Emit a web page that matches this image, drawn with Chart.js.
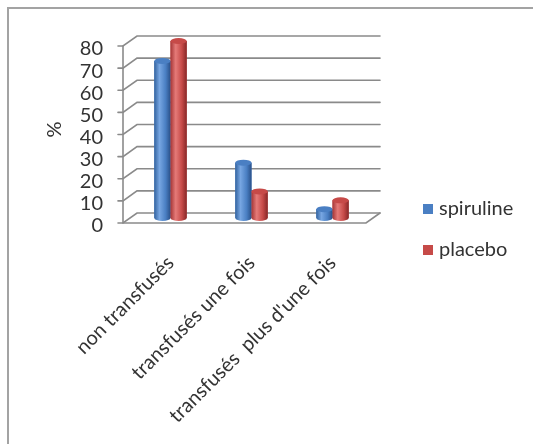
<!DOCTYPE html>
<html>
<head>
<meta charset="utf-8">
<script src="https://cdn.jsdelivr.net/npm/chart.js@4/dist/chart.umd.min.js"></script>
<style>
  html, body { margin: 0; padding: 0; background: #ffffff; }
  canvas { display: block; }
</style>
</head>
<body>
<canvas id="chart" width="533" height="444"></canvas>
<script>
// Répartition des patients selon le nombre de transfusions (%)
const categories = ['non transfusés', 'transfusés une fois', "transfusés  plus d'une fois"];
const spiruline = [71, 25, 4];
const placebo = [80, 12, 8];
const yTickValues = [0, 10, 20, 30, 40, 50, 60, 70, 80];
const seriesNames = ['spiruline', 'placebo'];

const FONT = { family: 'Lato, "Open Sans", sans-serif', size: 20 };
const TEXT = '#333333';
const GRID = '#8a8a8a';
// half-depth of the pseudo-3D box (front plane = mid plane - DX, + DY)
const DX = 7, DY = 5;

const shades = [
  ['#33639f', '#77a6e2', '#4a7fc3', '#2a5088'],
  ['#a63636', '#e57a78', '#c64a48', '#862828']
];

// outer frame (top and left edges) and white background
const framePlugin = {
  id: 'frame',
  beforeDraw(chart) {
    const { ctx, width, height } = chart;
    ctx.save();
    ctx.fillStyle = '#ffffff';
    ctx.fillRect(0, 0, width, height);
    ctx.strokeStyle = '#a3a3a3';
    ctx.lineWidth = 2;
    ctx.beginPath();
    ctx.moveTo(width, 8);
    ctx.lineTo(8, 8);
    ctx.lineTo(8, height);
    ctx.stroke();
    ctx.restore();
  }
};

// back wall gridlines, side ticks and floor of the 3D box
const boxPlugin = {
  id: 'box3d',
  beforeDatasetsDraw(chart) {
    const { ctx, chartArea: { left, right }, scales: { y } } = chart;
    ctx.save();
    ctx.strokeStyle = GRID;
    ctx.lineWidth = 1.6;
    ctx.lineCap = 'round';
    yTickValues.forEach(v => {
      const py = y.getPixelForValue(v);
      ctx.beginPath();
      ctx.moveTo(left - DX - 5, py + DY);
      ctx.lineTo(left - DX, py + DY);
      ctx.lineTo(left + DX, py - DY);
      ctx.lineTo(right + DX, py - DY);
      ctx.stroke();
    });
    const yTop = y.getPixelForValue(yTickValues[yTickValues.length - 1]);
    const y0 = y.getPixelForValue(0);
    ctx.beginPath();
    ctx.moveTo(left - DX, yTop + DY);
    ctx.lineTo(left - DX, y0 + DY);
    ctx.lineTo(right - DX, y0 + DY);
    ctx.lineTo(right + DX, y0 - DY);
    ctx.stroke();
    ctx.restore();
  }
};

// cylinder shading over each bar
const cylinderPlugin = {
  id: 'cylinder',
  afterDatasetsDraw(chart) {
    const { ctx } = chart;
    chart.data.datasets.forEach((ds, di) => {
      const meta = chart.getDatasetMeta(di);
      const s = shades[di];
      meta.data.forEach(el => {
        const { x, y, base, width } = el.getProps(['x', 'y', 'base', 'width'], true);
        const l = x - width / 2, r = x + width / 2;
        const g = ctx.createLinearGradient(l, 0, r, 0);
        g.addColorStop(0, s[0]);
        g.addColorStop(0.32, s[1]);
        g.addColorStop(0.7, s[2]);
        g.addColorStop(1, s[3]);
        const ry = Math.min(3, Math.abs(base - y) / 2);
        ctx.save();
        ctx.fillStyle = g;
        ctx.beginPath();
        ctx.moveTo(l, y);
        ctx.lineTo(l, base);
        ctx.ellipse(x, base, width / 2, ry, 0, Math.PI, 0, true);
        ctx.lineTo(r, y);
        ctx.closePath();
        ctx.fill();
        ctx.fillStyle = s[2];
        ctx.beginPath();
        ctx.ellipse(x, y, width / 2, ry, 0, 0, Math.PI * 2);
        ctx.fill();
        ctx.restore();
      });
    });
  }
};

// legend at the right of the plot
const legendPlugin = {
  id: 'sideLegend',
  afterDraw(chart) {
    const { ctx } = chart;
    ctx.save();
    ctx.font = `${FONT.size}px ${FONT.family}`;
    ctx.textBaseline = 'middle';
    chart.data.datasets.forEach((ds, i) => {
      const cy = 209 + i * 41;
      ctx.fillStyle = ds.backgroundColor;
      ctx.fillRect(423, cy - 5, 10, 10);
      ctx.fillStyle = TEXT;
      ctx.fillText(ds.label, 439, cy);
    });
    ctx.restore();
  }
};

new Chart(document.getElementById('chart'), {
  type: 'bar',
  data: {
    labels: categories,
    datasets: [
      { label: seriesNames[0], data: spiruline, backgroundColor: '#4a7fc3' },
      { label: seriesNames[1], data: placebo, backgroundColor: '#c64a48' }
    ]
  },
  options: {
    responsive: false,
    devicePixelRatio: 1,
    animation: false,
    layout: { padding: { left: 38, top: 41, right: 160, bottom: 0 } },
    datasets: { bar: { categoryPercentage: 0.4, barPercentage: 1.0 } },
    plugins: { legend: { display: false }, tooltip: { enabled: false } },
    scales: {
      x: {
        grid: { display: false, drawTicks: false },
        border: { display: false },
        ticks: { minRotation: 45, maxRotation: 45, autoSkip: false, padding: 33, font: FONT, color: TEXT },
        afterFit(scale) { scale.height = 226; }
      },
      y: {
        min: 0,
        max: 80,
        afterBuildTicks(scale) { scale.ticks = yTickValues.map(v => ({ value: v })); },
        grid: { display: false, drawTicks: false },
        border: { display: false },
        ticks: { autoSkip: false, padding: 27, labelOffset: 8, font: FONT, color: TEXT },
        title: { display: true, text: '%', font: FONT, color: TEXT, padding: { top: 5, bottom: 0 } },
        afterFit(scale) { scale.width = 130 - 38; }
      }
    }
  },
  plugins: [framePlugin, boxPlugin, cylinderPlugin, legendPlugin]
});
</script>
</body>
</html>
